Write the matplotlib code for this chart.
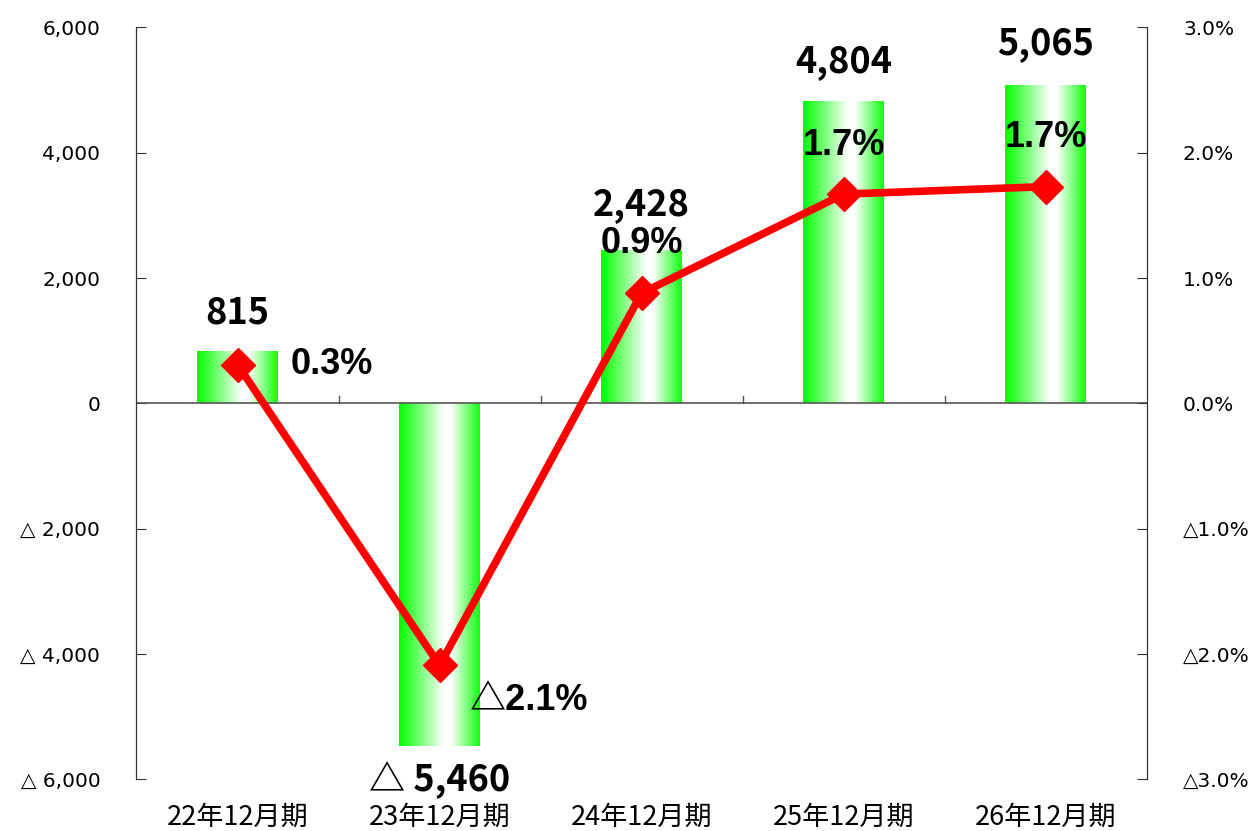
import numpy as np
import matplotlib
matplotlib.use("Agg")
import matplotlib.pyplot as plt
from matplotlib.colors import LinearSegmentedColormap
from matplotlib.ticker import FuncFormatter

# ===============================
# DATA
# ===============================
categories = ["22年12月期", "23年12月期", "24年12月期", "25年12月期", "26年12月期"]
amounts = [815, -5460, 2428, 4804, 5065]          # left axis
rates = [0.31, -2.09, 0.88, 1.67, 1.73]           # right axis (%)
rate_labels = ["0.3%", "△2.1%", "0.9%", "1.7%", "1.7%"]

FONT = ["Noto Sans CJK JP", "DejaVu Sans"]
TICKFONT = ["DejaVu Sans", "Noto Sans CJK JP"]
PCTFONT = ["Liberation Sans", "Noto Sans CJK JP", "DejaVu Sans"]
plt.rcParams["font.family"] = FONT


def tri(v, fmt):
    return ("△ " if v < 0 else "") + fmt.format(abs(v))


fig = plt.figure(figsize=(12.52, 8.31), dpi=100)
ax = fig.add_axes([0.109, 0.062, 0.807, 0.905])
ax2 = ax.twinx()

x = np.arange(len(categories))

# ===============================
# BARS (green gradient)
# ===============================
grad_cmap = LinearSegmentedColormap.from_list(
    "g", [(0, "#00ff00"), (0.56, "#ffffff"), (0.64, "#ffffff"), (1, "#11ff11")])
grad = np.linspace(0, 1, 256).reshape(1, -1)
bars = ax.bar(x, amounts, width=0.4, color="none", zorder=2)
for b in bars:
    x0, y0 = b.get_x(), b.get_y()
    w, h = b.get_width(), b.get_height()
    ax.imshow(grad, cmap=grad_cmap, aspect="auto",
              extent=(x0, x0 + w, min(y0, y0 + h), max(y0, y0 + h)), zorder=2)
ax.set_xlim(-0.5, len(categories) - 0.5)
ax.set_ylim(-6000, 6000)
ax2.set_ylim(-3, 3)

# value labels
val_offsets = [15, -11, 20, 16, 17]
for xi, v, dy in zip(x, amounts, val_offsets):
    if v >= 0:
        ax.annotate(f"{v:,}", (xi, v), xytext=(0, dy), textcoords="offset points",
                    ha="center", va="bottom", fontsize=26, fontweight="bold", zorder=5)
    else:
        ax.annotate("△ " + f"{abs(v):,}", (xi, v), xytext=(0, dy), textcoords="offset points",
                    ha="center", va="top", fontsize=26, fontweight="bold", zorder=5)

# ===============================
# LINE
# ===============================
ax2.plot(x, rates, color="#ff0000", lw=5.5, marker="D", markersize=17, zorder=4)
offsets = [(38, 0, "left"), (22, -25, "left"),
           (0, 36, "center"), (0, 35, "center"), (0, 35, "center")]
for xi, r, lab, (dx, dy, ha) in zip(x, rates, rate_labels, offsets):
    ax2.annotate(lab, (xi, r), xytext=(dx, dy), textcoords="offset points",
                 ha=ha, va="center", fontsize=26, fontweight="bold",
                 family=PCTFONT, zorder=5)

# ===============================
# AXES STYLE
# ===============================
for a in (ax, ax2):
    a.spines["top"].set_visible(False)
    a.spines["bottom"].set_visible(False)
    a.spines["left"].set_color("#333333")
    a.spines["right"].set_color("#333333")

ax.axhline(0, color="#555555", lw=1.2, zorder=3)
ax.set_xticks(np.arange(len(categories) + 1) - 0.5)
ax.tick_params(axis="x", direction="in", length=0, labelbottom=False)
for b in ax.get_xticks()[1:-1]:
    ax.plot([b, b], [0, 120], color="#555555", lw=1.0, zorder=3)
for xi, c in zip(x, categories):
    ax.text(xi, -0.05, c, transform=ax.get_xaxis_transform(), ha="center", va="center",
            fontsize=19.5)

ax.set_yticks(np.arange(-6000, 6001, 2000))
ax.yaxis.set_major_formatter(FuncFormatter(lambda v, p: tri(v, "{:,.0f}")))
ax.tick_params(axis="y", direction="in", length=7, pad=26, labelsize=14.5, color="#333333")
ax2.set_yticks(np.arange(-3, 3.1, 1))
ax2.yaxis.set_major_formatter(FuncFormatter(
    lambda v, p: ("△" if v < 0 else "") + f"{abs(v):.1f}%"))
ax2.tick_params(axis="y", direction="in", length=7, pad=26, labelsize=14.5, color="#333333")
for lbl in ax.get_yticklabels() + ax2.get_yticklabels():
    lbl.set_family(TICKFONT)

ax2.set_zorder(ax.get_zorder() + 1)
ax2.patch.set_visible(False)

fig.savefig("out.png", dpi=100)
